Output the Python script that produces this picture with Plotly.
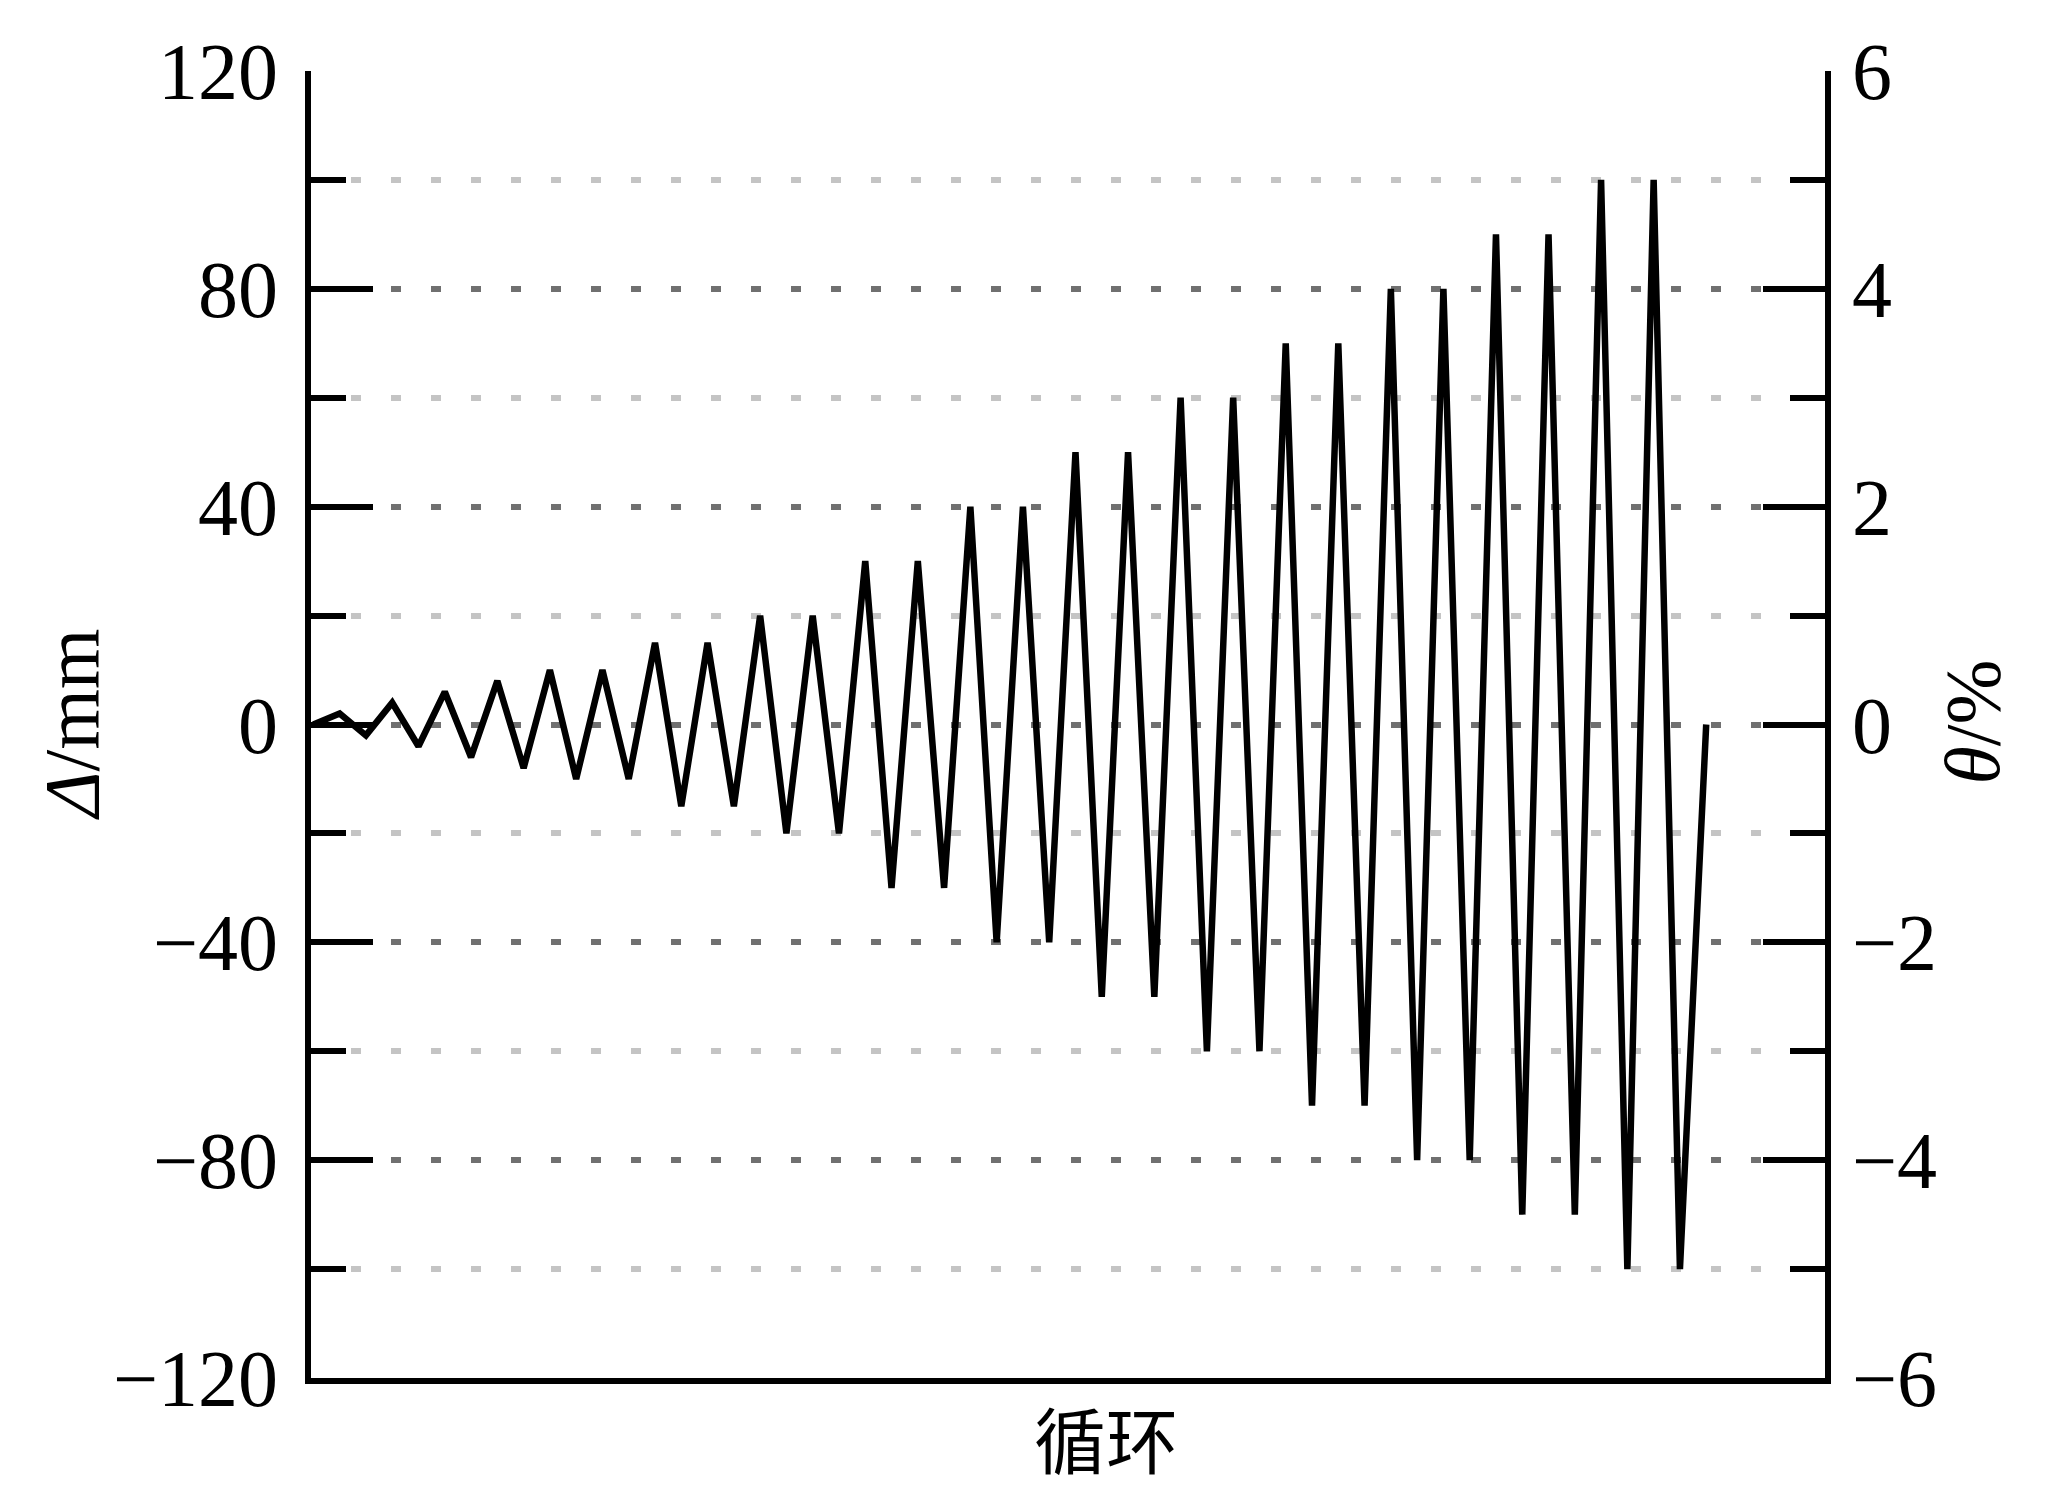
import plotly.graph_objects as go

# Data: loading protocol (displacement in mm per half-cycle)
step = list(range(54))
disp_mm = [0, 2, -2, 4, -4, 6, -6, 8, -8, 10, -10, 10, -10,
           15, -15, 15, -15, 20, -20, 20, -20, 30, -30, 30, -30,
           40, -40, 40, -40, 50, -50, 50, -50, 60, -60, 60, -60,
           70, -70, 70, -70, 80, -80, 80, -80, 90, -90, 90, -90,
           100, -100, 100, -100, 0]

left_major_vals = [-120, -80, -40, 0, 40, 80, 120]
left_major_text = ["\u2212120", "\u221280", "\u221240", "0", "40", "80", "120"]
left_minor_vals = [-100, -60, -20, 20, 60, 100]
right_major_vals = [-6, -4, -2, 0, 2, 4, 6]
right_major_text = ["\u22126", "\u22124", "\u22122", "0", "2", "4", "6"]
right_minor_vals = [-5, -3, -1, 1, 3, 5]
grid_major_vals = [-80, -40, 0, 40, 80]
grid_minor_vals = [-100, -60, -20, 20, 60, 100]

SERIF = "Liberation Serif, Times New Roman, serif"
FS = 80
MAJ_LEN, MIN_LEN, TW = 62, 35, 6

fig = go.Figure()
fig.add_trace(go.Scatter(x=step, y=disp_mm, mode="lines",
                         line=dict(color="black", width=6.5),
                         yaxis="y", showlegend=False, hoverinfo="skip"))

fig.update_layout(
    width=2048, height=1479,
    margin=dict(l=303, r=231, t=63, b=109),
    paper_bgcolor="white", plot_bgcolor="white",
    font=dict(family=SERIF, size=FS, color="black"),
    xaxis=dict(range=[-0.09, 57.52], showline=True, linewidth=TW, linecolor="black",
               showticklabels=False, ticks="", showgrid=False, zeroline=False),
    yaxis=dict(range=[-120, 120], showline=True, linewidth=TW, linecolor="black",
               tickmode="array", tickvals=left_major_vals, ticktext=left_major_text,
               ticks="inside", ticklen=MAJ_LEN, tickwidth=TW, tickcolor="black",
               minor=dict(tickmode="array", tickvals=left_minor_vals, ticks="inside",
                          ticklen=MIN_LEN, tickwidth=TW, tickcolor="black", showgrid=False),
               showgrid=False, zeroline=False, ticklabelstandoff=11,
               tickfont=dict(family=SERIF, size=FS)),
    yaxis2=dict(range=[-6, 6], overlaying="y", side="right", anchor="x",
                showline=True, linewidth=TW, linecolor="black",
                tickmode="array", tickvals=right_major_vals, ticktext=right_major_text,
                ticks="inside", ticklen=MAJ_LEN, tickwidth=TW, tickcolor="black",
                minor=dict(tickmode="array", tickvals=right_minor_vals, ticks="inside",
                           ticklen=MIN_LEN, tickwidth=TW, tickcolor="black", showgrid=False),
                showgrid=False, zeroline=False, ticklabelstandoff=5,
                tickfont=dict(family=SERIF, size=FS)),
    yaxis3=dict(range=[-120, 120], overlaying="y", side="left", anchor="x",
                showline=False, showticklabels=False, ticks="",
                tickmode="array", tickvals=grid_major_vals,
                showgrid=True, gridcolor="#707070", gridwidth=6, griddash="10px,30px",
                minor=dict(tickmode="array", tickvals=grid_minor_vals, ticks="",
                           showgrid=True, gridcolor="#c4c4c4", gridwidth=6,
                           griddash="10px,30px"),
                zeroline=False),
    annotations=[
        dict(text="<i>\u0394</i>/mm", xref="paper", yref="paper", x=-0.158, y=0.5,
             textangle=-90, showarrow=False, xanchor="center", yanchor="middle",
             font=dict(family=SERIF, size=78)),
        dict(text="<i>\u03b8</i>/%", xref="paper", yref="paper", x=1.0975, y=0.502,
             textangle=-90, showarrow=False, xanchor="center", yanchor="middle",
             font=dict(family=SERIF, size=78)),
        dict(text="循环", xref="paper", yref="paper", x=0.525, y=-0.045,
             showarrow=False, xanchor="center", yanchor="middle",
             font=dict(family="Noto Sans CJK SC", size=72)),
    ],
)

# placeholder traces to activate the extra axes
fig.add_trace(go.Scatter(x=[None], y=[None], yaxis="y3", showlegend=False, hoverinfo="skip"))
fig.add_trace(go.Scatter(x=[None], y=[None], yaxis="y2", showlegend=False, hoverinfo="skip"))

fig.write_html("out.html")
